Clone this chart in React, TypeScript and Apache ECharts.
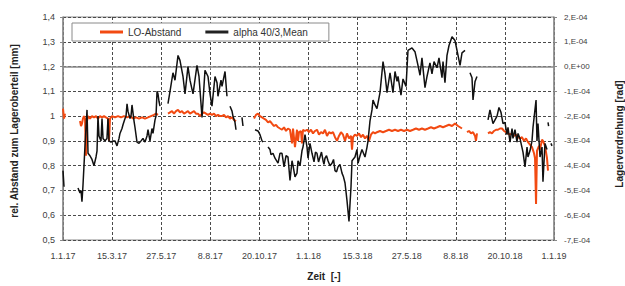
import React, { useEffect, useRef } from 'react';
import * as echarts from 'echarts';

// x: days since 1.1.17
const xTickLabels = ['1.1.17', '15.3.17', '27.5.17', '8.8.17', '20.10.17', '1.1.18', '15.3.18', '27.5.18', '8.8.18', '20.10.18', '1.1.19'];

// LO-Abstand [mm], left axis; null = gap
const loAbstand: ([number, number] | null)[] = [
  [0, 1.03], [1.5, 0.99], [3, 1.01], null,
  [25.3, 0.98], [26.8, 0.96], [28.2, 0.97], [29.7, 0.99], [31.2, 1.0], [32.7, 0.99], [34.2, 0.84], [35.7, 0.98], [37.2, 1.0], [40.1, 0.99], [43.1, 1.0], [46.1, 0.995], [49.1, 1.0], [52.0, 0.99], [55.0, 1.0], [58.0, 0.995], [61.0, 1.0], [63.9, 0.995], [66.9, 0.99], [68.4, 0.9], [69.9, 0.99], [72.9, 1.0], [77.3, 0.995], [81.8, 1.0], [86.2, 0.995], [90.7, 1.0], [95.2, 0.995], [99.6, 1.0], [104.1, 0.99], [108.5, 0.995], [113.0, 0.99], [117.5, 0.995], [121.9, 0.99], [126.4, 0.995], [130.8, 1.0], [135.3, 1.005], [138.3, 1.01], [141.2, 1.005], null,
  [156.1, 1.01], [159.1, 1.015], [162.1, 1.02], [165.0, 1.01], [168.0, 1.02], [171.0, 1.025], [173.9, 1.015], [176.9, 1.02], [179.9, 1.01], [182.9, 1.015], [185.8, 1.02], [188.8, 1.01], [191.8, 1.015], [194.8, 1.02], [197.7, 1.01], [200.7, 1.01], [203.7, 1.0], [206.7, 1.01], [209.6, 1.015], [212.6, 1.01], [215.6, 1.005], [218.6, 1.01], [221.5, 1.005], [224.5, 1.01], [227.5, 1.0], [230.4, 1.005], [233.4, 1.0], [236.4, 1.0], [239.4, 1.005], [242.3, 0.995], [245.3, 1.0], [248.3, 0.99], [251.3, 0.995], [254.2, 0.985], [257.2, 0.98], null,
  [284.0, 0.99], [286.9, 1.005], [289.9, 1.01], [292.9, 1.0], [295.9, 0.995], [298.8, 0.99], [301.8, 0.985], [304.8, 0.975], [307.8, 0.98], [310.7, 0.97], [313.7, 0.96], [316.7, 0.965], [319.7, 0.955], [322.6, 0.95], [325.6, 0.945], [328.6, 0.955], [331.6, 0.94], [334.5, 0.95], [337.5, 0.945], [340.5, 0.89], [342.0, 0.95], [344.9, 0.875], [347.9, 0.945], [349.4, 0.9], [350.9, 0.935], [353.8, 0.94], [355.3, 0.89], [356.8, 0.945], [359.8, 0.94], [362.8, 0.945], [365.7, 0.935], [368.7, 0.945], [371.7, 0.93], [374.7, 0.94], [377.6, 0.945], [380.6, 0.925], [383.6, 0.935], [386.6, 0.93], [389.5, 0.945], [392.5, 0.92], [395.5, 0.935], [398.5, 0.93], [401.4, 0.935], [404.4, 0.915], [407.4, 0.9], [410.3, 0.92], [413.3, 0.935], [416.3, 0.925], [419.3, 0.9], [422.2, 0.93], [425.2, 0.91], [428.2, 0.92], [429.7, 0.865], [431.2, 0.915], [434.1, 0.925], [437.1, 0.92], [440.1, 0.93], [443.1, 0.915], [446.0, 0.925], [449.0, 0.91], [452.0, 0.92], [454.9, 0.9], [457.9, 0.925], [460.9, 0.935], [463.9, 0.93], [466.8, 0.935], [471.3, 0.94], [475.8, 0.935], [480.2, 0.94], [484.7, 0.945], [489.1, 0.94], [493.6, 0.945], [498.1, 0.94], [502.5, 0.945], [507.0, 0.94], [511.5, 0.945], [515.9, 0.94], [520.4, 0.945], [524.8, 0.95], [529.3, 0.945], [533.7, 0.95], [538.2, 0.945], [542.7, 0.95], [547.1, 0.955], [551.6, 0.95], [556.1, 0.955], [560.5, 0.96], [565.0, 0.955], [569.4, 0.96], [573.9, 0.965], [578.4, 0.96], [582.8, 0.97], [587.3, 0.96], [590.3, 0.955], [593.2, 0.95], null,
  [600.7, 0.935], [603.6, 0.94], [606.6, 0.93], [609.6, 0.935], [612.6, 0.92], [614.0, 0.9], [615.5, 0.93], null,
  [631.9, 0.93], [634.8, 0.935], [637.8, 0.93], [640.8, 0.94], [643.8, 0.945], [646.7, 0.945], [649.7, 0.95], [652.7, 0.95], [655.7, 0.94], [658.6, 0.935], [661.6, 0.93], [664.6, 0.925], [667.6, 0.93], [670.5, 0.92], [673.5, 0.925], [676.5, 0.915], [679.4, 0.91], [682.4, 0.915], [685.4, 0.9], [688.4, 0.91], [691.3, 0.895], [694.3, 0.885], [697.3, 0.875], [700.3, 0.85], [701.8, 0.83], [703.3, 0.645], [704.7, 0.86], [707.7, 0.88], [709.2, 0.865], [712.2, 0.905], [713.6, 0.9], [716.6, 0.88], [719.6, 0.83], [721.1, 0.78],
];

// alpha 40/3, Mean [1E-04 rad], right axis; null = gap
const alphaE4: ([number, number] | null)[] = [
  [0, -4.2], [1.5, -4.85], null,
  [22.3, -4.9], [25.3, -5.1], [26.8, -5.0], [28.2, -5.45], [29.7, -4.8], [32.7, -3.2], [35.7, -1.75], [37.2, -3.5], [40.1, -3.6], [43.1, -3.75], [46.1, -4.0], [49.1, -3.65], [50.6, -3.4], [52.0, -2.0], [53.5, -2.8], [56.5, -3.0], [58.0, -2.1], [59.5, -2.9], [62.4, -3.0], [65.4, -2.9], [66.9, -2.1], [68.4, -3.0], [71.4, -3.05], [74.3, -3.0], [77.3, -3.0], [80.3, -3.2], [83.3, -2.9], [84.7, -2.7], [87.7, -2.5], [89.2, -2.35], [92.2, -2.1], [93.7, -2.0], [95.2, -1.5], [96.6, -1.8], [99.6, -2.1], [101.1, -2.0], [102.6, -1.55], [105.6, -2.2], [107.0, -2.45], [110.0, -3.05], [113.0, -3.1], [116.0, -3.0], [118.9, -2.9], [121.9, -3.05], [124.9, -2.8], [126.4, -2.55], [129.3, -3.0], [132.3, -2.5], [133.8, -2.7], [136.8, -2.15], [138.3, -2.0], [139.8, -1.0], [141.2, -1.1], [142.7, -1.4], [144.2, -1.6], null,
  [156.1, -1.5], [159.1, -1.0], [163.5, -0.25], [166.5, -0.55], [171.0, 0.45], [173.9, 0.25], [178.4, -0.4], [181.4, -1.1], [185.8, 0], [188.8, -0.55], [193.3, -1.1], [199.2, 0.05], [202.2, -0.4], [206.7, -2.05], [211.1, -0.15], [215.6, -0.4], [218.6, -1.1], [221.5, -1.6], [226.0, -0.4], [229.0, -0.65], [230.4, -1.2], [234.9, -0.55], [236.4, -0.8], [240.9, -0.2], [243.8, -1.2], null,
  [248.3, -1.6], [251.3, -1.8], [252.7, -2.0], [255.7, -2.25], [257.2, -2.55], null,
  [266.1, -2.05], [267.6, -2.4], null,
  [285.5, -2.55], [289.9, -2.6], [292.9, -2.75], [295.9, -3.0], [297.4, -3.05], null,
  [304.8, -3.25], [307.8, -3.35], [309.2, -3.55], [312.2, -3.5], [315.2, -3.7], [319.7, -3.9], [322.6, -3.5], [325.6, -3.5], [328.6, -4.05], [331.6, -3.6], [334.5, -3.65], [337.5, -4.6], [340.5, -3.8], [342.0, -4.0], [344.9, -4.45], [347.9, -4.3], [349.4, -3.8], [352.4, -4.0], [355.3, -3.4], [356.8, -3.25], [359.8, -2.75], [362.8, -3.25], [364.3, -3.7], [367.2, -3.1], [370.2, -3.5], [373.2, -3.85], [375.4, -3.45], [377.6, -3.5], [379.9, -3.85], [382.1, -3.65], [384.3, -3.45], [386.6, -3.8], [388.0, -3.95], [389.5, -3.7], [391.8, -3.6], [394.0, -3.8], [396.9, -4.0], [399.9, -3.9], [402.2, -3.75], [404.4, -4.2], [406.7, -4.25], [408.9, -4.05], [411.8, -3.95], [414.8, -4.3], [417.0, -4.45], [419.3, -4.7], [422.2, -5.4], [425.2, -6.25], [428.2, -4.85], [429.7, -3.8], [434.1, -3.65], [437.1, -3.35], [438.6, -3.9], [441.6, -3.6], [444.5, -3.35], [449.0, -3.65], [452.0, -3.25], [453.5, -3.0], [456.4, -2.2], [459.4, -1.75], [460.9, -1.35], [463.9, -1.55], [466.8, -1.7], [471.3, -1.05], [475.8, 0.2], [478.7, -0.3], [481.7, -1.05], [486.2, -0.25], [490.6, -1.05], [493.6, -0.2], [496.6, -0.6], [498.1, -0.4], [502.5, -1.15], [505.5, -0.5], [510.0, -0.8], [512.9, 0.65], [515.9, 0.7], [518.9, 0.75], [523.3, 0.6], [527.8, 0.05], [530.8, -0.35], [533.7, 0.35], [538.2, -0.85], [541.2, -0.4], [545.6, 0.15], [548.6, -0.3], [551.6, 0.2], [556.1, -0.05], [559.0, 0.35], [563.5, -0.45], [565.0, 0.2], [567.9, -0.65], [570.9, 0.45], [573.9, 0.85], [578.4, 1.2], [582.8, 1.05], [585.8, 0.65], [590.3, 0.05], [593.2, 0.55], [597.7, 0.65], null,
  [605.1, -0.25], [608.1, -0.45], [609.6, -1.35], [612.6, -0.6], [615.5, -0.4], null,
  [631.9, -2.15], [634.8, -1.75], [639.3, -2.3], [645.3, -2.0], [648.2, -1.65], [651.2, -1.85], [654.2, -2.3], [657.1, -2.25], [660.1, -2.75], [661.6, -2.45], [664.6, -3.05], [667.6, -2.5], [669.0, -2.9], [672.0, -2.55], [675.0, -3.05], [676.5, -2.7], [679.4, -2.9], [683.9, -3.45], [686.9, -4.05], [689.9, -3.25], [691.3, -3.65], [694.3, -3.4], [697.3, -3.0], [698.8, -2.45], [703.3, -1.35], [704.7, -3.0], [706.2, -2.3], [709.2, -3.65], [712.2, -3.25], [713.6, -4.65], [716.6, -3.1], [719.6, -3.35], null,
  [721.1, -2.25], [722.0, -2.4], null,
  [725.5, -3.1], [727.0, -3.2],
];

const FONT = '"Liberation Sans", Arial, sans-serif';
const ORANGE = '#F24A12';
const GRIDLINE = '#4a4a4a';
const AXISLINE = '#8a8a8a';

const toData = (arr: ([number, number] | null)[]) => arr.map((p) => (p === null ? [null, null] : p));

export default function App() {
  const ref = useRef<HTMLDivElement>(null);
  useEffect(() => {
    document.body.style.margin = '0';
    const chart = echarts.init(ref.current!, null, { renderer: 'svg' });
    chart.setOption({
      animation: false,
      backgroundColor: '#fff',
      grid: { left: 63, right: 71, top: 17, bottom: 46, show: true, borderColor: AXISLINE, borderWidth: 1 },
      legend: {
        left: 72,
        top: 23,
        padding: [4, 21, 4, 28],
        itemGap: 24,
        itemWidth: 23,
        itemHeight: 3,
        backgroundColor: '#fff',
        borderColor: AXISLINE,
        borderWidth: 1,
        textStyle: { fontFamily: FONT, fontSize: 10, color: '#333' },
        data: [
          { name: 'LO-Abstand', icon: 'rect', itemStyle: { color: ORANGE } },
          { name: 'alpha 40/3,Mean', icon: 'rect', itemStyle: { color: '#222' } },
        ],
      },
      xAxis: {
        type: 'value',
        min: 0,
        max: 730,
        interval: 73,
        axisLine: { show: true, lineStyle: { color: AXISLINE, width: 1.5 } },
        axisTick: { show: true, length: 3, lineStyle: { color: AXISLINE } },
        axisLabel: {
          margin: 11,
          fontFamily: FONT,
          fontSize: 9,
          color: '#404040',
          formatter: (v: number) => xTickLabels[Math.round(v / 73)] ?? '',
        },
        splitLine: { show: true, lineStyle: { color: GRIDLINE, type: [3, 2], width: 1 } },
      },
      yAxis: [
        {
          type: 'value',
          min: 0.5,
          max: 1.4,
          interval: 0.1,
          position: 'left',
          axisLine: { show: true, lineStyle: { color: AXISLINE, width: 1.5 } },
          axisTick: { show: true, length: 3, lineStyle: { color: AXISLINE } },
          axisLabel: {
            margin: 8,
            fontFamily: FONT,
            fontSize: 9,
            color: '#404040',
            formatter: (v: number) => String(Math.round(v * 10) / 10).replace('.', ','),
          },
          splitLine: { show: true, lineStyle: { color: GRIDLINE, type: [3, 2], width: 1 } },
        },
        {
          type: 'value',
          min: -7,
          max: 2,
          interval: 1,
          position: 'right',
          axisLine: { show: true, lineStyle: { color: AXISLINE, width: 1.5 } },
          axisTick: { show: true, length: 3, lineStyle: { color: AXISLINE } },
          axisLabel: {
            margin: 10,
            fontFamily: FONT,
            fontSize: 8,
            color: '#404040',
            formatter: (v: number) => (Math.round(v) === 0 ? '0,E+00' : `${Math.round(v)},E-04`),
          },
          splitLine: { show: false },
        },
      ],
      series: [
        {
          name: 'LO-Abstand',
          type: 'line',
          yAxisIndex: 0,
          data: toData(loAbstand),
          showSymbol: false,
          connectNulls: false,
          lineStyle: { color: ORANGE, width: 2 },
          itemStyle: { color: ORANGE },
          z: 2,
        },
        {
          name: 'alpha 40/3,Mean',
          type: 'line',
          yAxisIndex: 1,
          data: toData(alphaE4),
          showSymbol: false,
          connectNulls: false,
          lineStyle: { color: '#111', width: 1.5 },
          itemStyle: { color: '#111' },
          z: 3,
        },
      ],
      graphic: [
        {
          type: 'text',
          x: 14,
          y: 131,
          rotation: Math.PI / 2,
          style: { text: 'rel. Abstand zum Lageroberteil [mm]', fontFamily: FONT, fontSize: 10, fontWeight: 'bold', fill: '#222', align: 'center', verticalAlign: 'middle' },
        },
        {
          type: 'text',
          x: 619,
          y: 134,
          rotation: Math.PI / 2,
          style: { text: 'Lagerverdrehung [rad]', fontFamily: FONT, fontSize: 10, fontWeight: 'bold', fill: '#222', align: 'center', verticalAlign: 'middle' },
        },
        {
          type: 'text',
          x: 324,
          y: 276,
          style: { text: 'Zeit  [-]', fontFamily: FONT, fontSize: 10, fontWeight: 'bold', fill: '#222', align: 'center', verticalAlign: 'middle' },
        },
      ],
    });
    return () => chart.dispose();
  }, []);
  return <div ref={ref} style={{ width: 625, height: 286 }} />;
}
